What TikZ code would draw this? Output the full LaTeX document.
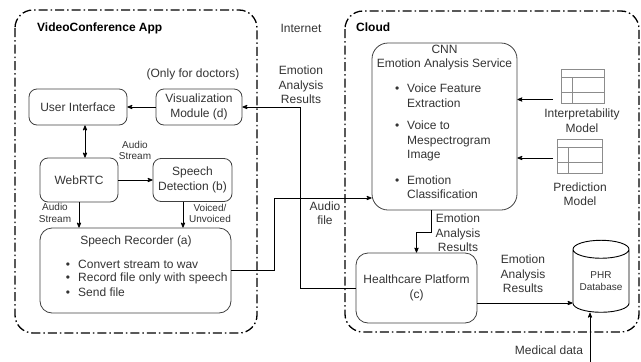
\documentclass[tikz,border=0pt]{standalone}
\usepackage{fontspec}
\setmainfont{Liberation Sans}
\usepackage{xcolor}
\usepackage{tikz}
\usetikzlibrary{arrows}
\usetikzlibrary{shapes.geometric}
\definecolor{txtgray}{HTML}{333333}
\definecolor{boxgray}{HTML}{404040}
\definecolor{icongray}{HTML}{8C8C8C}
\newcommand{\itemdot}{\llap{\textbullet\hspace{8pt}}}
\tikzset{
    tnode/.style = {align=center, inner sep=0pt, text centered, text=txtgray, font=\fontsize{12}{14.5}\selectfont},
    small/.style = {tnode, font=\fontsize{10}{11.5}\selectfont},
    head/.style = {tnode, anchor=west, text=black, font=\fontsize{12}{14}\selectfont\bfseries},
    item/.style = {tnode, align=left, anchor=west},
    box/.style = {tnode, rectangle, rounded corners=8pt, draw=boxgray, line width=0.8pt},
    zone/.style = {draw=black, line width=1.3pt, rounded corners=18pt, dash pattern=on 9pt off 3pt on 1.5pt off 3pt},
    icon/.style = {rectangle, draw=icongray, line width=0.8pt, inner sep=0pt, minimum height=34pt,
        path picture={
            \draw[icongray, line width=0.8pt] ([yshift=-8pt]path picture bounding box.north west) -- ([yshift=-8pt]path picture bounding box.north east);
            \draw[icongray, line width=0.8pt] ([yshift=-23pt]path picture bounding box.north west) -- ([yshift=-23pt]path picture bounding box.north east);
            \draw[icongray, line width=0.8pt] ([xshift=11pt,yshift=-8pt]path picture bounding box.north west) -- ([xshift=11pt]path picture bounding box.south west);
        }},
    dbase/.style = {tnode, cylinder, shape border rotate=90, aspect=0.42, draw=black, line width=0.9pt,
        minimum height=72pt, minimum width=56pt, font=\fontsize{10}{12}\selectfont},
    conn/.style = {->, black, line width=0.8pt}
}

\begin{document}
\begin{tikzpicture}[x=1pt, y=-1pt, >=stealth']
\useasboundingbox (0,0) rectangle (641,362);

% the two zones
\draw[zone] (15,10) rectangle (257,333);
\draw[zone] (345,11) rectangle (639,332);
\node[head] (applbl) at (37,28) {VideoConference App};
\node[tnode] (netlbl) at (301,28) {Internet};
\node[head] (cloudlbl) at (356,27) {Cloud};

% videoconference app
\node[tnode] (doclbl) at (193,74) {(Only for doctors)};
\node[box, minimum width=98pt, minimum height=36pt] (ui) at (78,107) {User Interface};
\node[box, minimum width=86pt, minimum height=36pt] (viz) at (199,107) {Visualization\\Module (d)};
\node[box, minimum width=78pt, minimum height=44pt] (rtc) at (79,180) {WebRTC};
\node[box, minimum width=79pt, minimum height=43pt] (sd) at (192.5,180) {Speech\\Detection (b)};
\node[box, rounded corners=12pt, minimum width=191pt, minimum height=85pt] (rec) at (135.5,270.5) {};
\node[tnode] (rectitle) at (136,241) {Speech Recorder (a)};
\node[item] (rec1) at (78,264) {\itemdot Convert stream to wav};
\node[item] (rec2) at (78,278) {\itemdot Record file only with speech};
\node[item] (rec3) at (78,292) {\itemdot Send file};

% cloud
\node[box, rounded corners=16pt, minimum width=145pt, minimum height=167pt] (cnn) at (444.5,126.5) {};
\node[tnode] (cnntitle) at (444.5,57.5) {CNN\\Emotion Analysis Service};
\node[item] (cnn1) at (407,95.5) {\itemdot Voice Feature\\Extraction};
\node[item] (cnn2) at (407,141) {\itemdot Voice to\\Mespectrogram\\Image};
\node[item] (cnn3) at (407,187) {\itemdot Emotion\\Classification};
\node[icon, minimum width=43pt] (interp) at (582.5,86) {};
\node[tnode] (interplbl) at (582,120.5) {Interpretability\\Model};
\node[icon, minimum width=45pt] (pred) at (579.5,156) {};
\node[tnode] (predlbl) at (580,194) {Prediction\\Model};
\node[box, rounded corners=12pt, minimum width=121pt, minimum height=70pt] (hc) at (416.5,288) {Healthcare Platform\\(c)};
\node[dbase] (db) at (601,281) {PHR\\Database};

% connector labels
\node[small] (aslbl1) at (135,150.5) {Audio\\Stream};
\node[small] (aslbl2) at (55,213) {Audio\\Stream};
\node[small] (vulbl) at (210,213.5) {Voiced/\\Unvoiced};
\node[tnode] (aflbl) at (325,213) {Audio\\file};
\node[tnode] (earlbl1) at (301,85) {Emotion\\Analysis\\Results};
\node[tnode] (earlbl2) at (458,233) {Emotion\\Analysis\\Results};
\node[tnode] (earlbl3) at (523,274) {Emotion\\Analysis\\Results};
\node[tnode] (mdlbl) at (549,350) {Medical data};

% connectors
\coordinate (sdout) at ([xshift=-9.5pt]sd.south);
\coordinate (afbend) at (274,198);
\coordinate (earbend) at (300,107);
\coordinate (cnnout) at ([xshift=-13pt]cnn.south);
\coordinate (hcout) at ([yshift=-15pt]hc.east);
\coordinate (mdin) at (590,362);
\coordinate (interpout) at (553,99.5);
\coordinate (predout) at (553,158);
\draw[conn] (viz.west) -- (ui.east);
\draw[conn, <->] ([xshift=7pt]ui.south) -- ([xshift=6pt]rtc.north);
\draw[conn] (rtc.east) -- (sd.west);
\draw[conn] (rtc.south) -- (rtc.south |- rec.north);
\draw[conn] (sdout) -- (sdout |- rec.north);
\draw[conn] (rec.east) -| (afbend) -- (afbend -| cnn.west);
\draw[conn] (hc.west) -| (earbend) -- (viz.east);
\draw[conn] (cnnout) -- ++(0,22) -| (hc.north);
\draw[conn] (hcout) -- (hcout -| db.west);
\draw[conn] (mdin) -- (mdin |- db.south);
\draw[conn] (interpout) -- (interpout -| cnn.east);
\draw[conn] (predout) -- (predout -| cnn.east);
\end{tikzpicture}
\end{document}
